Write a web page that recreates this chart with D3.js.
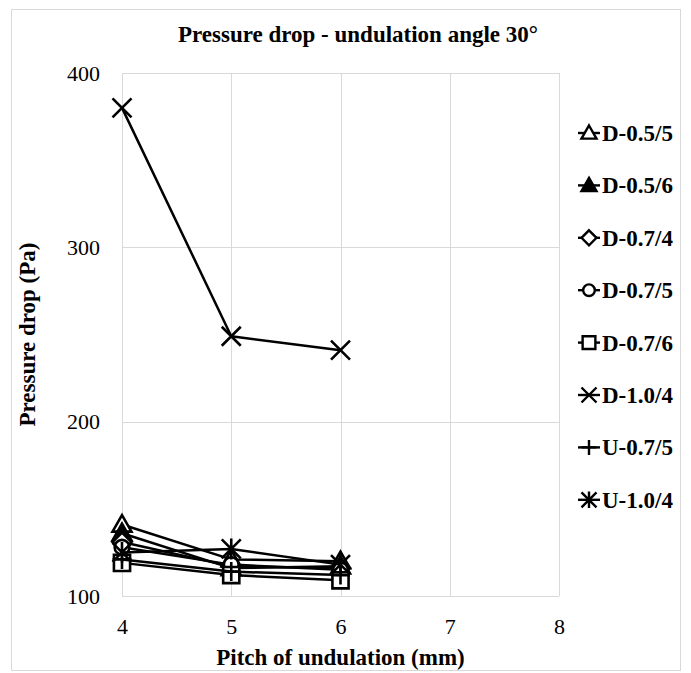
<!DOCTYPE html>
<html>
<head>
<meta charset="utf-8">
<script src="https://cdn.jsdelivr.net/npm/d3@7"></script>
<style>
  body { margin: 0; background: #fff; }
  text { font-family: "Liberation Serif", "Times New Roman", serif; fill: #000; }
</style>
</head>
<body>
<div id="chart"></div>
<script>
// chart data
const pitches = [4, 5, 6];
const seriesNames = ['D-0.5/5', 'D-0.5/6', 'D-0.7/4', 'D-0.7/5', 'D-0.7/6', 'D-1.0/4', 'U-0.7/5', 'U-1.0/4'];
const seriesValues = [
  [141, 121, 120],
  [136, 116, 117],
  [131, 117, 116],
  [128, 118, 115],
  [119, 112, 109],
  [380, 249, 241],
  [121, 114, 112],
  [125, 127, 118]
];
const markerTypes = ['triangle', 'triangleFilled', 'diamond', 'circle', 'square', 'cross', 'plus', 'asterisk'];
const xTicks = [4, 5, 6, 7, 8];
const yTicks = [100, 200, 300, 400];

const width = 691, height = 673;
const margin = { top: 73, right: 132, bottom: 77, left: 122 };

const svg = d3.select('#chart')
  .append('svg')
  .attr('width', width)
  .attr('height', height);

// chart frame
svg.append('rect')
  .attr('x', 11.5).attr('y', 9.5)
  .attr('width', 669).attr('height', 661)
  .attr('fill', '#fff')
  .attr('stroke', '#d9d9d9');

const x = d3.scaleLinear().domain([4, 8]).range([margin.left, width - margin.right]);
const y = d3.scaleLinear().domain([100, 400]).range([height - margin.bottom, margin.top]);

// grid
const grid = svg.append('g').attr('class', 'grid');
grid.selectAll('line.v')
  .data(xTicks)
  .join('line')
  .attr('class', 'v')
  .attr('x1', d => Math.round(x(d)) + 0.5).attr('x2', d => Math.round(x(d)) + 0.5)
  .attr('y1', y(400)).attr('y2', y(100))
  .attr('stroke', '#d9d9d9');
grid.selectAll('line.h')
  .data(yTicks)
  .join('line')
  .attr('class', 'h')
  .attr('y1', d => Math.round(y(d)) + 0.5).attr('y2', d => Math.round(y(d)) + 0.5)
  .attr('x1', x(4)).attr('x2', x(8))
  .attr('stroke', '#d9d9d9');

// axes labels via d3 axes (lines hidden, grid draws them)
const xAxis = svg.append('g')
  .attr('transform', `translate(0,${y(100)})`)
  .call(d3.axisBottom(x).tickValues(xTicks).tickSize(0).tickPadding(22).tickFormat(d3.format('d')));
const yAxis = svg.append('g')
  .attr('transform', `translate(${x(4)},0)`)
  .call(d3.axisLeft(y).tickValues(yTicks).tickSize(0).tickPadding(22).tickFormat(d3.format('d')));
[xAxis, yAxis].forEach(a => {
  a.select('.domain').remove();
  a.selectAll('text')
    .style('font-family', '"Liberation Serif", serif')
    .style('font-size', '22px')
    .attr('fill', '#000');
});

// titles
svg.append('text')
  .attr('x', 358).attr('y', 42)
  .attr('text-anchor', 'middle')
  .style('font-size', '23px').style('font-weight', 'bold')
  .text('Pressure drop - undulation angle 30°');
svg.append('text')
  .attr('x', (x(4) + x(8)) / 2).attr('y', 665)
  .attr('text-anchor', 'middle')
  .style('font-size', '23px').style('font-weight', 'bold')
  .text('Pitch of undulation (mm)');
svg.append('text')
  .attr('transform', `translate(35,${(y(100) + y(400)) / 2}) rotate(-90)`)
  .attr('text-anchor', 'middle')
  .style('font-size', '23px').style('font-weight', 'bold')
  .text('Pressure drop (Pa)');

// marker shapes
function markerPath(type, s) {
  switch (type) {
    case 'triangle':
    case 'triangleFilled':
      return `M0,${-s}L${s},${s * 0.75}L${-s},${s * 0.75}Z`;
    case 'diamond':
      return `M0,${-s}L${s},0L0,${s}L${-s},0Z`;
    case 'circle':
      return d3.symbol(d3.symbolCircle, Math.PI * s * s * 0.6)();
    case 'square':
      return `M${-s * 0.85},${-s * 0.85}H${s * 0.85}V${s * 0.85}H${-s * 0.85}Z`;
    case 'cross':
      return `M${-s},${-s}L${s},${s}M${-s},${s}L${s},${-s}`;
    case 'plus':
      return `M${-s},0H${s}M0,${-s}V${s}`;
    case 'asterisk':
      return `M${-s},${-s}L${s},${s}M${-s},${s}L${s},${-s}M0,${-s * 1.1}V${s * 1.1}`;
  }
}
function markerFill(type) {
  if (type === 'triangleFilled') return '#000';
  if (type === 'cross' || type === 'plus' || type === 'asterisk') return 'none';
  return '#fff';
}

const line = d3.line().x((d, i) => x(pitches[i])).y(d => y(d));

const plot = svg.append('g').attr('class', 'series');
seriesValues.forEach((vals, si) => {
  const g = plot.append('g');
  g.append('path')
    .attr('d', line(vals))
    .attr('fill', 'none')
    .attr('stroke', '#000')
    .attr('stroke-width', 2.5)
    .attr('stroke-linejoin', 'round');
  g.selectAll('path.marker')
    .data(vals)
    .join('path')
    .attr('class', 'marker')
    .attr('transform', (d, i) => `translate(${x(pitches[i])},${y(d)})`)
    .attr('d', markerPath(markerTypes[si], 9.5))
    .attr('fill', markerFill(markerTypes[si]))
    .attr('stroke', '#000')
    .attr('stroke-width', 2.6);
});

// legend
const legend = svg.append('g').attr('class', 'legend');
const items = legend.selectAll('g')
  .data(seriesNames)
  .join('g')
  .attr('transform', (d, i) => `translate(589,${133 + i * 52.4})`);
items.append('line')
  .attr('x1', -11).attr('x2', 11)
  .attr('stroke', '#000').attr('stroke-width', 2.4);
items.append('path')
  .attr('d', (d, i) => markerPath(markerTypes[i], 7.5))
  .attr('fill', (d, i) => markerFill(markerTypes[i]))
  .attr('stroke', '#000')
  .attr('stroke-width', 2.4);
items.append('text')
  .attr('x', 13).attr('y', 8)
  .style('font-size', '23px').style('font-weight', 'bold')
  .text(d => d);
</script>
</body>
</html>
